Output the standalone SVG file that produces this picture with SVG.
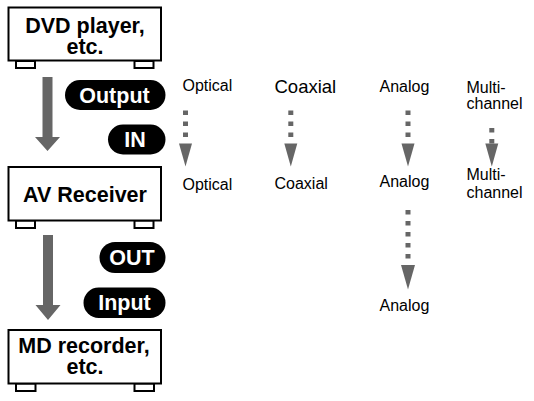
<svg xmlns="http://www.w3.org/2000/svg" width="534" height="401" viewBox="0 0 534 401">
<style>
.box{fill:#fff;stroke:#000;stroke-width:2}
.bt{font-family:"Liberation Sans",Arial,sans-serif;font-weight:bold;font-size:21.5px;fill:#000;text-anchor:middle}
.pill{fill:#000}
.pt{font-family:"Liberation Sans",Arial,sans-serif;font-weight:bold;font-size:21.5px;fill:#fff;text-anchor:middle}
.lt{font-family:"Liberation Sans",Arial,sans-serif;font-size:16px;fill:#000}
.ar{fill:#666}
</style>
<rect width="534" height="401" fill="#fff"/>
<g id="connectors">
  <polygon class="ar" points="42.5,77 52.5,77 52.5,137 60,137 47.5,151 35,137 42.5,137"/>
  <polygon class="ar" points="43,235 53,235 53,305 60.5,305 48,320 35.5,305 43,305"/>
  <g id="opt-arrow" class="ar">
    <rect x="183" y="110.5" width="5" height="4.5"/><rect x="183" y="121.5" width="5" height="4.5"/><rect x="183" y="132.5" width="5" height="4.5"/>
    <polygon points="179,143.5 192,143.5 185.5,166.5"/>
  </g>
  <g id="coax-arrow" class="ar">
    <rect x="288.3" y="110.5" width="5" height="4.5"/><rect x="288.3" y="121.5" width="5" height="4.5"/><rect x="288.3" y="132.5" width="5" height="4.5"/>
    <polygon points="284.3,143.5 297.3,143.5 290.8,166.5"/>
  </g>
  <g id="analog-arrow" class="ar">
    <rect x="405.5" y="110.5" width="5" height="4.5"/><rect x="405.5" y="121.5" width="5" height="4.5"/><rect x="405.5" y="132.5" width="5" height="4.5"/>
    <polygon points="401.5,143.5 414.5,143.5 408,166.5"/>
  </g>
  <g id="multi-arrow" class="ar">
    <rect x="489.3" y="128" width="5" height="4.5"/><rect x="489.3" y="139" width="5" height="4.5"/>
    <polygon points="485.3,143.5 498.3,143.5 491.8,166.5"/>
  </g>
  <g id="analog-arrow2" class="ar">
    <rect x="405.5" y="210" width="5" height="4.5"/><rect x="405.5" y="221" width="5" height="4.5"/><rect x="405.5" y="232" width="5" height="4.5"/><rect x="405.5" y="243" width="5" height="4.5"/><rect x="405.5" y="254" width="5" height="4.5"/>
    <polygon points="401,265 415,265 408,289.5"/>
  </g>
</g>
<g id="dvd">
  <rect class="box" x="16" y="61" width="19" height="7"/>
  <rect class="box" x="134.5" y="61" width="19" height="7"/>
  <rect class="box" x="8.5" y="7.5" width="152.5" height="53"/>
  <text class="bt" x="85" y="32.5">DVD player,</text>
  <text class="bt" x="85" y="53.5">etc.</text>
</g>
<g id="avr">
  <rect class="box" x="16" y="220.5" width="19" height="7.5"/>
  <rect class="box" x="134.5" y="220.5" width="19" height="7.5"/>
  <rect class="box" x="8.5" y="167" width="152.5" height="53.5"/>
  <text class="bt" x="85" y="201.5">AV Receiver</text>
</g>
<g id="md">
  <rect class="box" x="16" y="383.5" width="19.5" height="7.5"/>
  <rect class="box" x="134.5" y="383.5" width="19.5" height="7.5"/>
  <rect class="box" x="8.5" y="330" width="152.5" height="53.5"/>
  <text class="bt" x="84" y="353">MD recorder,</text>
  <text class="bt" x="85" y="373.5">etc.</text>
</g>
<g id="output">
  <rect class="pill" x="65" y="80" width="100.5" height="30" rx="15"/>
  <text class="pt" x="114.5" y="102.5">Output</text>
</g>
<g id="in">
  <rect class="pill" x="108" y="124.5" width="57.5" height="30" rx="15"/>
  <text class="pt" x="135" y="146.5">IN</text>
</g>
<g id="out">
  <rect class="pill" x="99.5" y="242" width="66" height="31" rx="15.5"/>
  <text class="pt" x="132" y="265">OUT</text>
</g>
<g id="input">
  <rect class="pill" x="83.5" y="287.5" width="82" height="30.5" rx="15.25"/>
  <text class="pt" x="124.5" y="309.5">Input</text>
</g>
<g id="labels">
  <text class="lt" x="182.5" y="91">Optical</text>
  <text class="lt" x="274.5" y="93" style="font-size:18.5px">Coaxial</text>
  <text class="lt" x="379.5" y="92">Analog</text>
  <text class="lt" x="466.5" y="92.5">Multi-</text>
  <text class="lt" x="466.5" y="109">channel</text>
  <text class="lt" x="182.5" y="189.5">Optical</text>
  <text class="lt" x="274.5" y="188.7">Coaxial</text>
  <text class="lt" x="379.5" y="187.3">Analog</text>
  <text class="lt" x="466.5" y="180">Multi-</text>
  <text class="lt" x="466.5" y="197.5">channel</text>
  <text class="lt" x="379.5" y="311">Analog</text>
</g>
</svg>
